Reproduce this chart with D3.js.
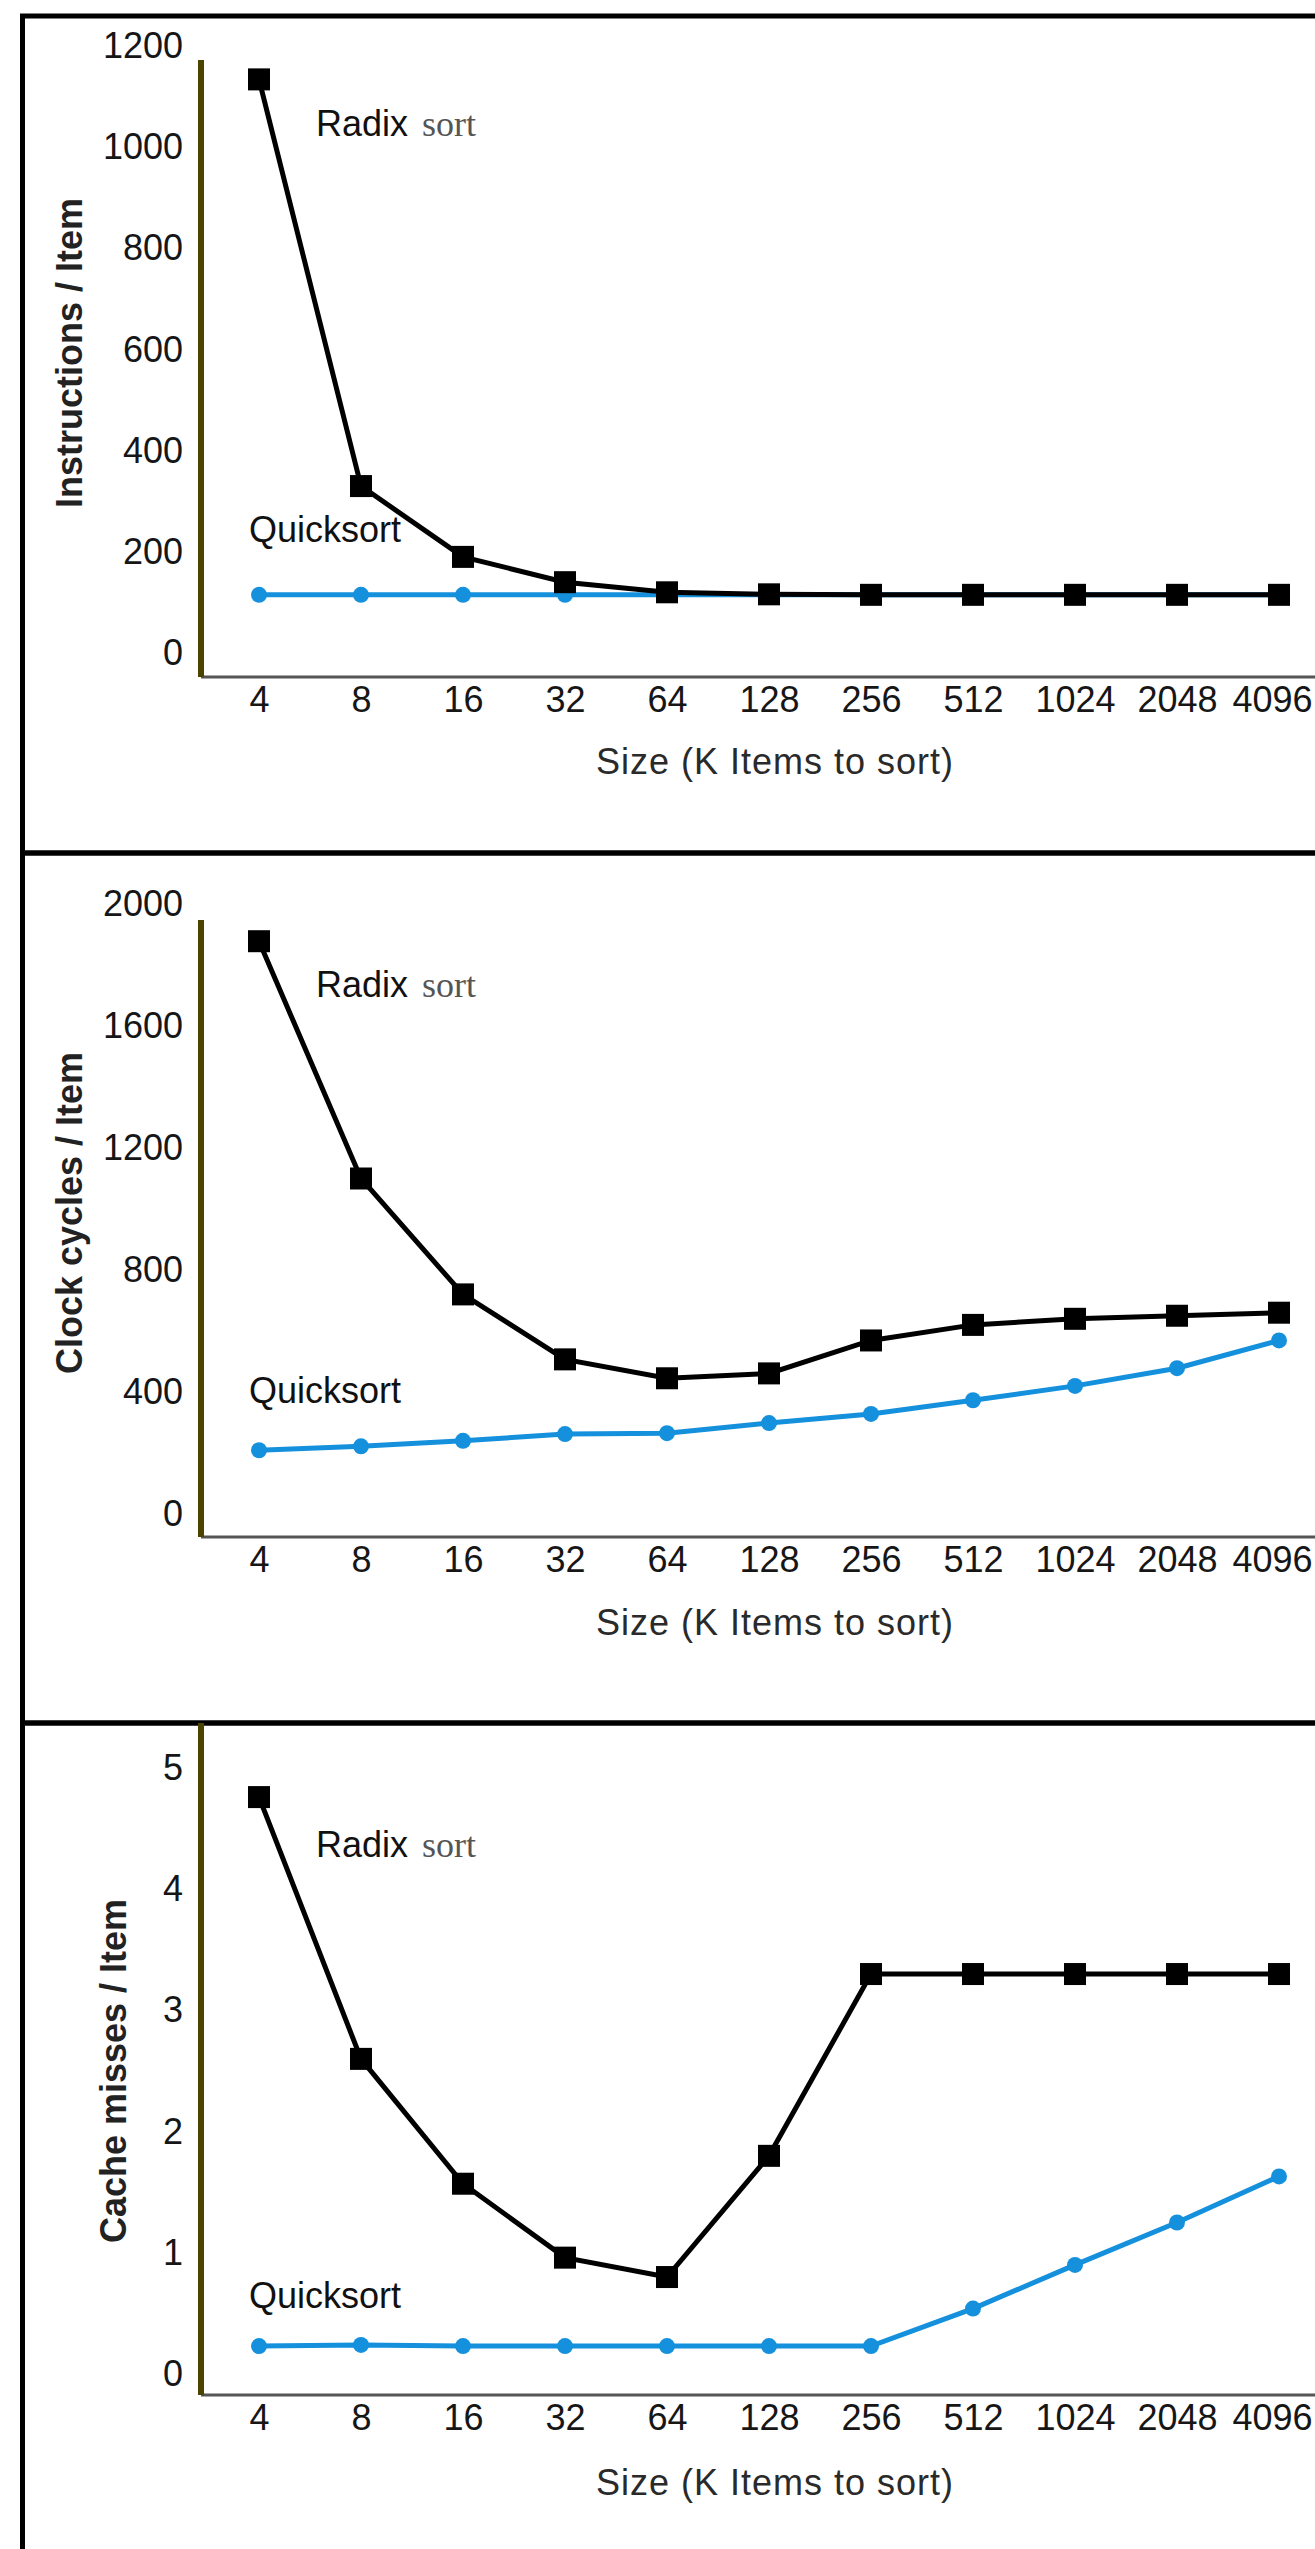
<!DOCTYPE html>
<html>
<head>
<meta charset="utf-8">
<script src="https://cdn.jsdelivr.net/npm/d3@7"></script>
<style>
  html, body { margin: 0; padding: 0; background: #fff; }
  svg { display: block; }
</style>
</head>
<body>
<svg id="chart" width="1315" height="2549"></svg>
<script>
// ---------------- data ----------------
const sizes = ["4", "8", "16", "32", "64", "128", "256", "512", "1024", "2048", "4096"];

const radixInstr  = [1134, 330, 190, 140, 120, 116, 115, 115, 115, 115, 115];
const quickInstr  = [115, 115, 115, 115, 115, 115, 115, 115, 115, 115, 115];

const radixCycles = [1878, 1100, 720, 507, 445, 461, 569, 620, 640, 650, 660];
const quickCycles = [209, 222, 240, 262, 265, 298, 328, 373, 420, 478, 569];

const radixMisses = [4.76, 2.6, 1.57, 0.96, 0.8, 1.8, 3.3, 3.3, 3.3, 3.3, 3.3];
const quickMisses = [0.23, 0.24, 0.23, 0.23, 0.23, 0.23, 0.23, 0.54, 0.9, 1.25, 1.63];

const instrTicks  = [0, 200, 400, 600, 800, 1000, 1200];
const cycleTicks  = [0, 400, 800, 1200, 1600, 2000];
const missTicks   = [0, 1, 2, 3, 4, 5];

const yTitles = ["Instructions / Item", "Clock cycles / Item", "Cache misses / Item"];
const xTitle = "Size (K Items to sort)";
const seriesNames = ["Radix", "sort", "Quicksort"];

// ---------------- layout ----------------
const panels = [
  { radix: radixInstr,  quick: quickInstr,  ticks: instrTicks, max: 1200,
    top: 16,   bottom: 853,  y0: 653,  yMax: 46,   axisTop: 60,   axisBottom: 677,
    titleX: 69,  titleY: 353,  quickDy: -111 },
  { radix: radixCycles, quick: quickCycles, ticks: cycleTicks, max: 2000,
    top: 853,  bottom: 1723, y0: 1514, yMax: 904,  axisTop: 920,  axisBottom: 1537,
    titleX: 69,  titleY: 1213, quickDy: -111 },
  { radix: radixMisses, quick: quickMisses, ticks: missTicks,  max: 5,
    top: 1723, bottom: 2600, y0: 2374, yMax: 1768, axisTop: 1723, axisBottom: 2395,
    titleX: 113, titleY: 2071, quickDy: -66 }
];

const BLUE = "#1590dc";
const W = 1315;
const svg = d3.select("#chart");
const x = d3.scalePoint().domain(sizes).range([259, 1279]);
const axisX = 201;

svg.append("rect").attr("width", W).attr("height", 2549).attr("fill", "#fff");

panels.forEach((p, i) => {
  const y = d3.scaleLinear().domain([0, p.max]).range([p.y0, p.yMax]);
  const g = svg.append("g");

  // panel frame (runs past the right edge, as in the reference)
  g.append("rect")
    .attr("x", 22.5).attr("y", p.top)
    .attr("width", 1400).attr("height", p.bottom - p.top)
    .attr("fill", "none").attr("stroke", "#000").attr("stroke-width", 5);

  // y axis (labels)
  const yAxis = d3.axisLeft(y).tickValues(p.ticks).tickSize(0).tickPadding(18)
    .tickFormat(d3.format("d"));
  const yg = g.append("g").attr("transform", `translate(${axisX},0)`).call(yAxis);
  yg.select(".domain").remove();
  yg.selectAll("text")
    .attr("font-family", "'Liberation Sans', Arial, sans-serif")
    .attr("font-size", 36).attr("fill", "#161616");

  // x axis (labels)
  const xAxis = d3.axisBottom(x).tickSize(0).tickPadding(9);
  const xg = g.append("g").attr("transform", `translate(0,${p.axisBottom})`).call(xAxis);
  xg.select(".domain").remove();
  xg.selectAll("text")
    .attr("font-family", "'Liberation Sans', Arial, sans-serif")
    .attr("font-size", 36).attr("fill", "#161616");
  // keep the last label inside the picture
  xg.selectAll(".tick").filter(d => d === sizes[sizes.length - 1]).select("text")
    .attr("text-anchor", "end").attr("x", W - 3 - x(sizes[sizes.length - 1]));

  // axis lines
  g.append("line")
    .attr("x1", axisX).attr("x2", 1400)
    .attr("y1", p.axisBottom).attr("y2", p.axisBottom)
    .attr("stroke", "#555").attr("stroke-width", 3);
  g.append("line")
    .attr("x1", axisX).attr("x2", axisX)
    .attr("y1", p.axisTop).attr("y2", p.axisBottom)
    .attr("stroke", "#4a4400").attr("stroke-width", 6);

  // titles
  g.append("text")
    .attr("transform", `translate(${p.titleX},${p.titleY}) rotate(-90)`)
    .attr("text-anchor", "middle").attr("dominant-baseline", "central")
    .attr("font-family", "'Liberation Sans', Arial, sans-serif")
    .attr("font-weight", "bold").attr("font-size", 36).attr("fill", "#222")
    .text(yTitles[i]);
  g.append("text")
    .attr("x", 775).attr("y", p.y0 + 108)
    .attr("text-anchor", "middle").attr("dominant-baseline", "central")
    .attr("font-family", "'Liberation Sans', Arial, sans-serif")
    .attr("font-size", 36).attr("letter-spacing", 1).attr("fill", "#2a2a2a")
    .text(xTitle);

  // series lines
  const line = d3.line().x((d, k) => x(sizes[k])).y(d => y(d));
  g.append("path").datum(p.quick).attr("d", line)
    .attr("fill", "none").attr("stroke", BLUE).attr("stroke-width", 5);
  g.selectAll(".qdot").data(p.quick).enter().append("circle")
    .attr("cx", (d, k) => x(sizes[k])).attr("cy", d => y(d)).attr("r", 8)
    .attr("fill", BLUE);
  g.append("path").datum(p.radix).attr("d", line)
    .attr("fill", "none").attr("stroke", "#000").attr("stroke-width", 5);
  g.selectAll(".rsq").data(p.radix).enter().append("rect")
    .attr("x", (d, k) => x(sizes[k]) - 11).attr("y", d => y(d) - 11)
    .attr("width", 22).attr("height", 22).attr("fill", "#000");

  // series labels
  const rl = g.append("text").attr("x", 316).attr("y", p.y0 - 517)
    .attr("font-size", 36);
  rl.append("tspan").attr("font-family", "'Liberation Sans', Arial, sans-serif")
    .attr("fill", "#111").text(seriesNames[0]);
  rl.append("tspan").attr("font-family", "'Liberation Serif', 'Times New Roman', serif")
    .attr("fill", "#555").attr("dx", 14).text(seriesNames[1]);
  g.append("text").attr("x", 249).attr("y", p.y0 + p.quickDy)
    .attr("font-family", "'Liberation Sans', Arial, sans-serif")
    .attr("font-size", 36).attr("fill", "#111").text(seriesNames[2]);
});
</script>
</body>
</html>
